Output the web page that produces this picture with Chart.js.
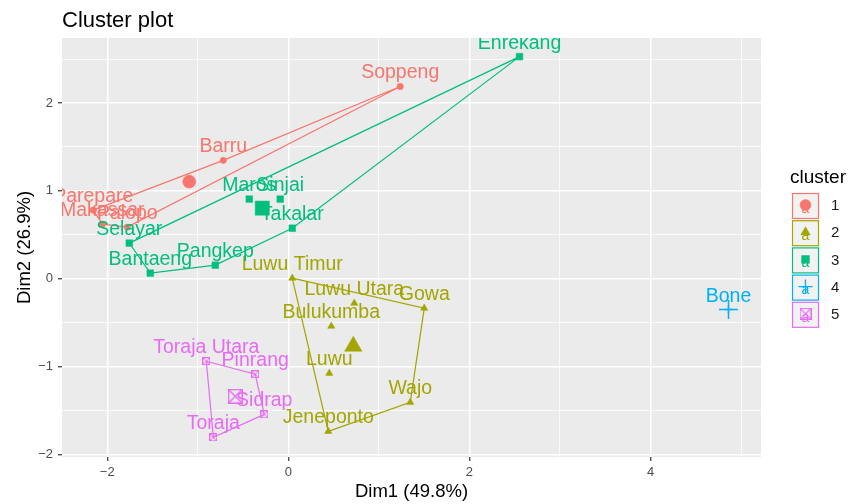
<!DOCTYPE html>
<html>
<head>
<meta charset="utf-8">
<script src="https://cdn.jsdelivr.net/npm/chart.js@4.4.1/dist/chart.umd.min.js"></script>
<style>
  body { margin: 0; background: #fff; }
  #wrap { width: 850px; height: 504px; }
</style>
</head>
<body>
<div id="wrap"><canvas id="chart" width="850" height="504"></canvas></div>
<script>
// clusters and colours (ggplot hue palette)
var clusters = ['1', '2', '3', '4', '5'];
var colors = ['#F8766D', '#A3A500', '#00BF7D', '#00B0F6', '#E76BF3'];

// cluster 1
var names1 = ['Soppeng', 'Barru', 'Parepare', 'Makassar', 'Palopo'];
var dimA1 = [1.235, -0.719, -2.155, -2.055, -1.779];
var dimB1 = [2.188, 1.347, 0.781, 0.621, 0.587];
var hull1 = ['Soppeng', 'Barru', 'Parepare', 'Makassar', 'Palopo', 'Soppeng'];

// cluster 2
var names2 = ['Luwu Timur', 'Luwu Utara', 'Gowa', 'Bulukumba', 'Luwu', 'Wajo', 'Jeneponto'];
var dimA2 = [0.043, 0.728, 1.501, 0.474, 0.452, 1.346, 0.441];
var dimB2 = [0.006, -0.279, -0.336, -0.541, -1.077, -1.407, -1.738];
var hull2 = ['Luwu Timur', 'Gowa', 'Wajo', 'Jeneponto', 'Luwu Timur'];

// cluster 3
var names3 = ['Enrekang', 'Maros', 'Sinjai', 'Takalar', 'Pangkep', 'Bantaeng', 'Selayar'];
var dimA3 = [2.553, -0.432, -0.090, 0.043, -0.807, -1.525, -1.757];
var dimB3 = [2.528, 0.906, 0.906, 0.575, 0.154, 0.063, 0.405];
var hull3 = ['Enrekang', 'Selayar', 'Bantaeng', 'Pangkep', 'Takalar', 'Enrekang'];

// cluster 4
var names4 = ['Bone'];
var dimA4 = [4.861];
var dimB4 = [-0.351];
var hull4 = ['Bone'];

// cluster 5
var names5 = ['Toraja Utara', 'Pinrang', 'Sidrap', 'Toraja'];
var dimA5 = [-0.906, -0.366, -0.266, -0.829];
var dimB5 = [-0.940, -1.088, -1.544, -1.806];
var hull5 = ['Toraja Utara', 'Pinrang', 'Sidrap', 'Toraja', 'Toraja Utara'];

// cluster centres
var centerA = [-1.095, 0.717, -0.288, 4.861, -0.586];
var centerB = [1.105, -0.769, 0.803, -0.351, -1.339];

// tick labels
var xTicks = [-2, 0, 2, 4];
var yTicks = [-2, -1, 0, 1, 2];

var FONT = '"Liberation Sans", Arial, sans-serif';

var allNames = [names1, names2, names3, names4, names5];
var allA = [dimA1, dimA2, dimA3, dimA4, dimA5];
var allB = [dimB1, dimB2, dimB3, dimB4, dimB5];
var allHulls = [hull1, hull2, hull3, hull4, hull5];

// square with an X, like ggplot shape 7
function boxCross(size, color, lw) {
    var c = document.createElement('canvas');
    c.width = size; c.height = size;
    var g = c.getContext('2d');
    var h = lw / 2;
    g.strokeStyle = color; g.lineWidth = lw;
    g.strokeRect(h, h, size - lw, size - lw);
    g.beginPath();
    g.moveTo(h, h); g.lineTo(size - h, size - h);
    g.moveTo(size - h, h); g.lineTo(h, size - h);
    g.stroke();
    return c;
}

var styles = ['circle', 'triangle', 'rect', 'cross', boxCross(8, colors[4], 1)];
var bigStyles = ['circle', 'triangle', 'rect', 'cross', boxCross(15, colors[4], 1.4)];
var radius = [3.2, 4.2, 4.7, 4, 4];
var bigRadius = [6.5, 10, 10, 9.5, 8];

function fmt(v) {
    return String(v).replace('-', '\u2212');
}
function near(v, list) {
    for (var i = 0; i < list.length; i++) {
        if (Math.abs(v - list[i]) < 1e-6) return true;
    }
    return false;
}

var datasets = [];
for (var k = 0; k < clusters.length; k++) {
    var pts = [];
    for (var i = 0; i < allNames[k].length; i++) {
        pts.push({ x: allA[k][i], y: allB[k][i] });
    }
    var hull = allHulls[k].map(function (n) {
        var idx = allNames[k].indexOf(n);
        return { x: allA[k][idx], y: allB[k][idx] };
    });
    if (hull.length > 1) {
        datasets.push({
            type: 'line', data: hull, order: 3,
            borderColor: colors[k], borderWidth: 1.2, pointRadius: 0,
            fill: false, tension: 0
        });
    }
    datasets.push({
        data: pts, order: 2,
        pointStyle: styles[k], pointRadius: radius[k],
        backgroundColor: colors[k], borderColor: colors[k],
        borderWidth: k == 3 ? 1.3 : 0.5
    });
    datasets.push({
        data: [{ x: centerA[k], y: centerB[k] }], order: 1,
        pointStyle: bigStyles[k], pointRadius: bigRadius[k],
        backgroundColor: colors[k], borderColor: colors[k],
        borderWidth: k == 3 ? 1.5 : 0.5
    });
}

// grey panel behind the grid
var panelPlugin = {
    id: 'panel',
    beforeDraw: function (chart) {
        var ctx = chart.ctx, a = chart.chartArea;
        ctx.save();
        ctx.fillStyle = '#fff';
        ctx.fillRect(0, 0, chart.width, chart.height);
        ctx.fillStyle = '#EBEBEB';
        ctx.fillRect(a.left, a.top, a.right - a.left, a.bottom - a.top);
        ctx.restore();
    }
};

// point names above each point
var labelPlugin = {
    id: 'labels',
    afterDatasetsDraw: function (chart) {
        var ctx = chart.ctx, a = chart.chartArea;
        var sx = chart.scales.x, sy = chart.scales.y;
        ctx.save();
        ctx.beginPath();
        ctx.rect(a.left, a.top, a.right - a.left, a.bottom - a.top);
        ctx.clip();
        ctx.font = '19.5px ' + FONT;
        ctx.textAlign = 'center';
        ctx.textBaseline = 'alphabetic';
        for (var k = 0; k < clusters.length; k++) {
            ctx.fillStyle = colors[k];
            for (var i = 0; i < allNames[k].length; i++) {
                var px = sx.getPixelForValue(allA[k][i]);
                var py = sy.getPixelForValue(allB[k][i]);
                ctx.fillText(allNames[k][i], px, py - 8);
            }
        }
        ctx.restore();
    }
};

// title, axis titles and legend in ggplot style
var decorPlugin = {
    id: 'decor',
    afterDraw: function (chart) {
        var ctx = chart.ctx, a = chart.chartArea;
        ctx.save();
        ctx.fillStyle = '#000';
        ctx.font = '22px ' + FONT;
        ctx.textAlign = 'left';
        ctx.textBaseline = 'alphabetic';
        ctx.fillText('Cluster plot', 62, 27);

        ctx.font = '18.5px ' + FONT;
        ctx.textAlign = 'center';
        ctx.textBaseline = 'middle';
        ctx.fillText('Dim1 (49.8%)', (a.left + a.right) / 2, 492);
        ctx.save();
        ctx.translate(25, (a.top + a.bottom) / 2);
        ctx.rotate(-Math.PI / 2);
        ctx.fillText('Dim2 (26.9%)', 0, 0);
        ctx.restore();

        // legend
        ctx.textAlign = 'left';
        ctx.font = '19px ' + FONT;
        ctx.fillText('cluster', 790, 178);
        for (var k = 0; k < clusters.length; k++) {
            var top = 193 + k * 27.2;
            var bx = 792, bw = 27, bh = 26;
            ctx.fillStyle = '#F2F2F2';
            ctx.fillRect(bx, top, bw, bh);
            ctx.strokeStyle = colors[k];
            ctx.lineWidth = 1.2;
            ctx.strokeRect(bx + 0.5, top + 0.5, bw - 1, bh - 1);
            var cx = bx + bw / 2, cy = top + bh / 2;
            ctx.fillStyle = colors[k];
            ctx.font = '14px ' + FONT;
            ctx.textAlign = 'center';
            ctx.fillText('a', cx, cy + 3);
            ctx.strokeStyle = colors[k];
            ctx.lineWidth = k == 3 ? 1.3 : 0.5;
            Chart.helpers.drawPoint(ctx, {
                pointStyle: styles[k] === styles[4] ? boxCross(12, colors[4], 1.2) : styles[k],
                radius: k == 3 ? 7 : 5.5, rotation: 0, borderWidth: k == 3 ? 1.3 : 0.5
            }, cx, cy - 1);
            ctx.fillStyle = '#1A1A1A';
            ctx.font = '15px ' + FONT;
            ctx.textAlign = 'left';
            ctx.fillText(clusters[k], 831, cy);
        }
        ctx.restore();
    }
};

new Chart(document.getElementById('chart'), {
    type: 'scatter',
    data: { datasets: datasets },
    plugins: [panelPlugin, labelPlugin, decorPlugin],
    options: {
        responsive: false,
        animation: false,
        devicePixelRatio: 1,
        layout: { padding: { left: 0, right: 89, top: 38, bottom: 0 } },
        plugins: { legend: { display: false }, tooltip: { enabled: false }, title: { display: false } },
        scales: {
            x: {
                type: 'linear', min: -2.5, max: 5.22,
                afterFit: function (s) { s.height = 47; },
                border: { display: false },
                grid: {
                    color: '#FFFFFF',
                    lineWidth: function (c) { return c.tick && near(c.tick.value, xTicks) ? 1.5 : 0.75; },
                    tickLength: 4,
                    tickWidth: 1.2,
                    tickColor: function (c) { return c.tick && near(c.tick.value, xTicks) ? '#333333' : 'rgba(0,0,0,0)'; }
                },
                ticks: {
                    stepSize: 1, includeBounds: false, autoSkip: false, maxRotation: 0,
                    padding: 4, color: '#4D4D4D', font: { family: FONT, size: 13 },
                    callback: function (v) { return near(v, xTicks) ? fmt(v) : ''; }
                }
            },
            y: {
                type: 'linear', min: -2.03, max: 2.74,
                afterFit: function (s) { s.width = 62; },
                border: { display: false },
                grid: {
                    color: '#FFFFFF',
                    lineWidth: function (c) { return c.tick && near(c.tick.value, yTicks) ? 1.5 : 0.75; },
                    tickLength: 4,
                    tickWidth: 1.2,
                    tickColor: function (c) { return c.tick && near(c.tick.value, yTicks) ? '#333333' : 'rgba(0,0,0,0)'; }
                },
                ticks: {
                    stepSize: 0.5, includeBounds: false, autoSkip: false,
                    padding: 5, color: '#4D4D4D', font: { family: FONT, size: 13 },
                    callback: function (v) { return near(v, yTicks) ? fmt(v) : ''; }
                }
            }
        }
    }
});
</script>
</body>
</html>
